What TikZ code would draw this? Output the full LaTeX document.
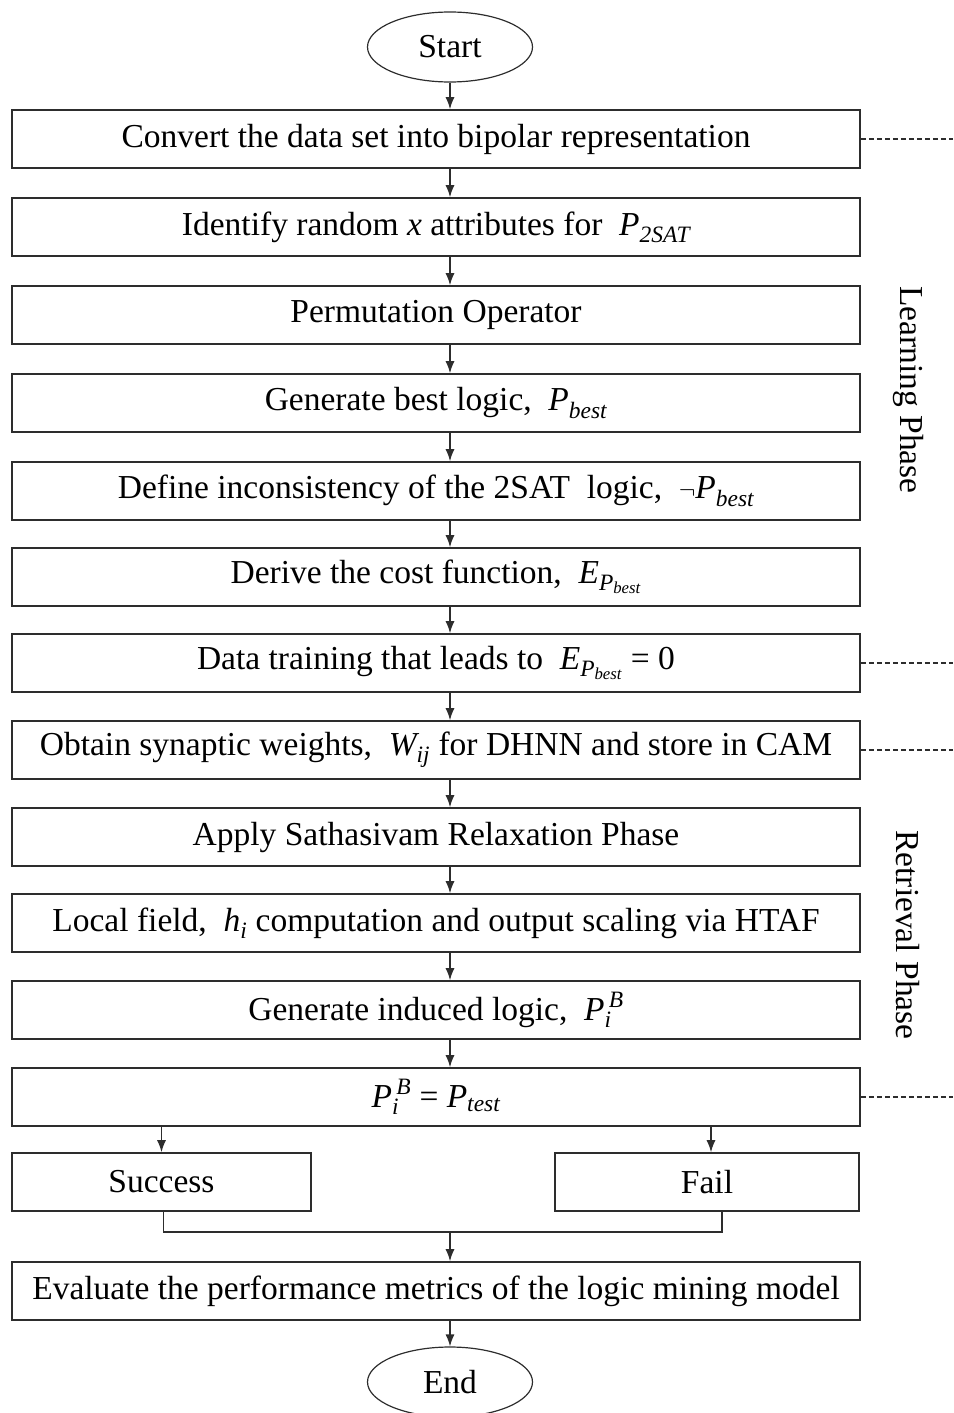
\documentclass[tikz,border=0pt]{standalone}
\usepackage{amsmath}
\usepackage{fontspec}
\setmainfont{Liberation Serif}
\usepackage{tikz}
\usetikzlibrary{arrows.meta,positioning,shapes.geometric}
\definecolor{ln}{RGB}{45,45,45}
\newcommand{\IT}[1]{\textit{#1}}

\begin{document}
\begin{tikzpicture}[x=1pt,y=-1pt,
  font=\fontsize{33.5}{39}\selectfont,
  stepbox/.style={draw=ln,line width=1.6pt,minimum width=848pt,minimum height=58pt,inner sep=0pt},
  halfbox/.style={draw=ln,line width=1.6pt,minimum height=58pt,inner sep=0pt},
  term/.style={draw=ln,ellipse,line width=1.2pt,minimum width=165pt,minimum height=70pt,inner sep=0pt},
  arr/.style={-{Latex[length=12pt,width=9pt]},line width=1.3pt,ln},
  dsh/.style={line width=1.2pt,ln,dash pattern=on 5pt off 3pt}]
  \useasboundingbox (0,0) rectangle (953,1413);

  % terminals
  \node[term] (start) at (450,47) {Start};
  \node[term] (stop) at (450,1382) {End};

  % learning phase
  \node[stepbox] (conv) at (436,139) {Convert the data set into bipolar representation};
  \node[stepbox] (ident) at (436,227) {Identify random \IT{x} attributes for \ $\IT{P}_{\IT{2SAT}}$};
  \node[stepbox] (perm) at (436,315) {Permutation Operator};
  \node[stepbox] (best) at (436,403) {Generate best logic, \ $\IT{P}_{\IT{best}}$};
  \node[stepbox] (incon) at (436,491) {Define inconsistency of the 2SAT~ logic, \ $\neg\IT{P}_{\IT{best}}$};
  \node[stepbox] (cost) at (436,577) {Derive the cost function, \ $\IT{E}_{\IT{P}_{\IT{best}}}$};
  \node[stepbox] (train) at (436,663) {Data training that leads to \ $\IT{E}_{\IT{P}_{\IT{best}}}$ = 0};

  % retrieval phase
  \node[stepbox] (weights) at (436,750) {Obtain synaptic weights, \ $\IT{W}_{\IT{ij}}$ for DHNN and store in CAM};
  \node[stepbox] (relax) at (436,837) {Apply Sathasivam Relaxation Phase};
  \node[stepbox] (field) at (436,923) {Local field, \ $\IT{h}_{\IT{i}}$ computation and output scaling via HTAF};
  \node[stepbox] (induce) at (436,1010) {Generate induced logic, \ $\IT{P}_{\IT{i}}^{\,\IT{B}}$};
  \node[stepbox] (ptest) at (436,1097) {$\IT{P}_{\IT{i}}^{\,\IT{B}}$ = $\IT{P}_{\IT{test}}$};

  \node[halfbox,minimum width=299pt] (succ) at (161.5,1182) {Success};
  \node[halfbox,minimum width=304pt] (fail) at (707,1182) {Fail};

  \node[stepbox] (eval) at (436,1291) {Evaluate the performance metrics of the logic mining model};

  % phase labels
  \node[rotate=-90] (learn) at (908,390) {Learning Phase};
  \node[rotate=-90] (retr) at (908,935) {Retrieval Phase};

  % main flow
  \draw[arr] (start) -- (start |- conv.north);
  \draw[arr] (conv.south -| start) -- (ident.north -| start);
  \draw[arr] (ident.south -| start) -- (perm.north -| start);
  \draw[arr] (perm.south -| start) -- (best.north -| start);
  \draw[arr] (best.south -| start) -- (incon.north -| start);
  \draw[arr] (incon.south -| start) -- (cost.north -| start);
  \draw[arr] (cost.south -| start) -- (train.north -| start);
  \draw[arr] (train.south -| start) -- (weights.north -| start);
  \draw[arr] (weights.south -| start) -- (relax.north -| start);
  \draw[arr] (relax.south -| start) -- (field.north -| start);
  \draw[arr] (field.south -| start) -- (induce.north -| start);
  \draw[arr] (induce.south -| start) -- (ptest.north -| start);

  % branches
  \draw[arr] (ptest.south -| succ.north) -- (succ.north);
  \draw[arr] ([xshift=4pt]ptest.south -| fail.north) -- ([xshift=4pt]fail.north);
  \coordinate (mrg) at (450,1232);
  \draw[line width=1.3pt,ln] ([xshift=2pt]succ.south) |- (mrg) -| ([xshift=15pt]fail.south);
  \draw[arr] (mrg) -- (mrg |- eval.north);
  \draw[arr] (eval.south -| stop) -- (stop);

  % dashed phase marks
  \coordinate (rim) at (953,0);
  \draw[dsh] (conv.east) -- (conv.east -| rim);
  \draw[dsh] (train.east) -- (train.east -| rim);
  \draw[dsh] (weights.east) -- (weights.east -| rim);
  \draw[dsh] (ptest.east) -- (ptest.east -| rim);
\end{tikzpicture}
\end{document}
